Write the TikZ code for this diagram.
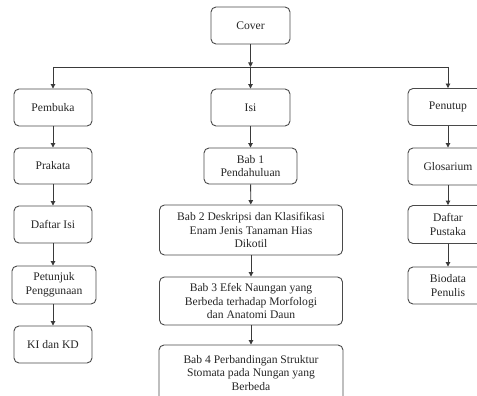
\documentclass[tikz,border=0pt]{standalone}
\usepackage{fontspec}
\setmainfont{Liberation Serif}
\usetikzlibrary{arrows.meta}
\definecolor{linegray}{HTML}{3A3A3A}
\definecolor{boxgray}{HTML}{4A4A4A}
\tikzset{
  box/.style={draw=boxgray, line width=0.9pt, rounded corners=5pt, align=center,
    font=\fontsize{11.6}{13.6}\selectfont, inner sep=1pt, text=black!85},
  conn/.style={draw=linegray, line width=0.9pt, -{Triangle[length=4.5pt,width=4.5pt]}},
  plain/.style={draw=linegray, line width=0.9pt}
}
\begin{document}
\begin{tikzpicture}[x=1pt,y=-1pt]
\clip (0,0) rectangle (477,396);
\fill[white] (0,0) rectangle (477,396);
% top
\node[box, minimum width=79pt, minimum height=37pt] (cover) at (250.5,25.5) {Cover};
% row 1
\node[box, minimum width=78pt, minimum height=37pt] (pembuka) at (53,107.5) {Pembuka};
\node[box, minimum width=79pt, minimum height=37pt] (isi) at (250.5,107.5) {Isi};
\node[box, minimum width=80pt, minimum height=37pt] (penutup) at (448,107) {Penutup};
% row 2
\node[box, minimum width=78pt, minimum height=36pt] (prakata) at (53,166) {Prakata};
\node[box, minimum width=93pt, minimum height=36pt] (bab1) at (250.5,166) {Bab 1\\Pendahuluan};
\node[box, minimum width=80pt, minimum height=37pt] (glosarium) at (448,166.5) {Glosarium};
% row 3
\node[box, minimum width=78pt, minimum height=37pt] (daftarisi) at (53,224.5) {Daftar Isi};
\node[box, minimum width=183pt, minimum height=50pt] (bab2) at (251,230) {Bab 2 Deskripsi dan Klasifikasi\\Enam Jenis Tanaman Hias\\Dikotil};
\node[box, minimum width=80pt, minimum height=38pt] (pustaka) at (448,224.5) {Daftar\\Pustaka};
% row 4
\node[box, minimum width=84pt, minimum height=38pt] (petunjuk) at (54,285) {Petunjuk\\Penggunaan};
\node[box, minimum width=183pt, minimum height=48pt] (bab3) at (251,301) {Bab 3 Efek Naungan yang\\Berbeda terhadap Morfologi\\dan Anatomi Daun};
\node[box, minimum width=80pt, minimum height=37pt] (biodata) at (448,285.5) {Biodata\\Penulis};
% row 5
\node[box, minimum width=78pt, minimum height=37pt] (kikd) at (53,344.5) {KI dan KD};
\node[box, minimum width=184pt, minimum height=56pt] (bab4) at (251,373) {Bab 4 Perbandingan Struktur\\Stomata pada Nungan yang\\Berbeda};
% junction coordinates
\coordinate (jc) at (250.5,67);
\coordinate (jl) at (53,67);
\coordinate (jr) at (448,67);
% connectors
\draw[conn] (cover.south) -- (jc);
\draw[plain] (jl) -- (jr);
\draw[conn] (jl) -- (pembuka.north);
\draw[conn] (jc) -- (isi.north);
\draw[conn] (jr) -- (penutup.north);
\draw[conn] (pembuka) -- (prakata);
\draw[conn] (prakata) -- (daftarisi);
\draw[conn] (daftarisi) -- (daftarisi|-petunjuk.north);
\draw[conn] (daftarisi|-petunjuk.south) -- (kikd);
\draw[conn] (isi) -- (bab1);
\draw[conn] (bab1) -- (bab2);
\draw[conn] (bab2) -- (bab3);
\draw[conn] (bab3) -- (bab4);
\draw[conn] (penutup) -- (glosarium);
\draw[conn] (glosarium) -- (pustaka);
\draw[conn] (pustaka) -- (biodata);
\end{tikzpicture}
\end{document}
